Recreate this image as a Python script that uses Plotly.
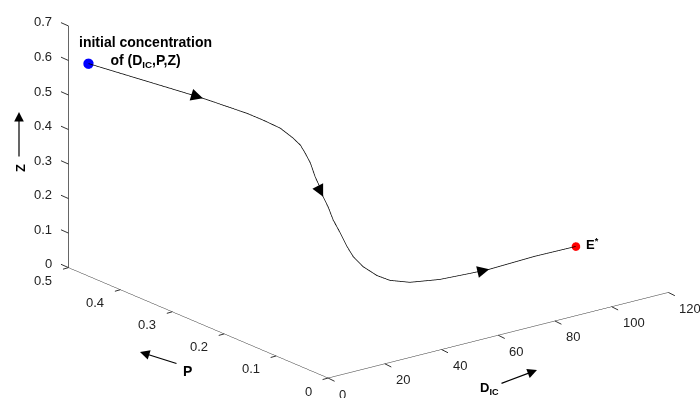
import plotly.graph_objects as go

# trajectory (D_IC, P, Z)
D_IC = [3.35, 11.1, 17.8, 23.6, 32.0, 34.9, 38.1, 40.8, 42.4, 43.2, 44.1, 44.9, 45.2, 45.5,
        45.8, 46.1, 46.9, 47.7, 48.2, 48.9, 50.2, 52.0, 56.3, 62.2, 68.1, 72.4, 83.6, 94.7]
P = [0.48, 0.44, 0.40, 0.37, 0.33, 0.315, 0.30, 0.29, 0.285, 0.28, 0.275, 0.27, 0.262, 0.258,
     0.25, 0.242, 0.233, 0.224, 0.215, 0.20, 0.18, 0.165, 0.15, 0.125, 0.10, 0.085, 0.06, 0.04]
Z = [0.597, 0.569, 0.546, 0.525, 0.489, 0.473, 0.453, 0.425, 0.405, 0.383, 0.356, 0.317, 0.290, 0.266,
     0.241, 0.208, 0.175, 0.139, 0.115, 0.094, 0.078, 0.070, 0.065, 0.077, 0.098, 0.111, 0.141, 0.160]

# indices of trajectory points carrying direction arrows, with pixel offsets of arrow tails
arrow_idx = [3, 13, 25]
arrow_off = [(-13, -4), (-6, -12), (-13, 3)]

D_range = [0, 120]
P_range = [0, 0.5]
Z_range = [0, 0.7]
D_ticks = [0, 20, 40, 60, 80, 100, 120]
P_ticks = [0, 0.1, 0.2, 0.3, 0.4, 0.5]
Z_ticks = [0, 0.1, 0.2, 0.3, 0.4, 0.5, 0.6, 0.7]
D_labels = ["0", "20", "40", "60", "80", "100", "120"]
P_labels = ["0", "0.1", "0.2", "0.3", "0.4", "0.5"]
Z_labels = ["0", "0.1", "0.2", "0.3", "0.4", "0.5", "0.6", "0.7"]

FONT = "Liberation Sans, Arial, sans-serif"
TICKFONT = dict(family=FONT, size=13, color="#222222")

fig = go.Figure()
fig.add_trace(go.Scatter3d(x=D_IC, y=P, z=Z, mode="lines",
                           line=dict(color="black", width=1.5), showlegend=False,
                           hoverinfo="skip"))
fig.add_trace(go.Scatter3d(x=[D_IC[0]], y=[P[0]], z=[Z[0]], mode="markers",
                           marker=dict(color="#0000ff", size=6, line=dict(width=0)),
                           showlegend=False))
fig.add_trace(go.Scatter3d(x=[D_IC[-1]], y=[P[-1]], z=[Z[-1]], mode="markers",
                           marker=dict(color="#ff0000", size=5, line=dict(width=0)),
                           showlegend=False))
# vertical Z axis line on the left edge of the box
fig.add_trace(go.Scatter3d(x=[D_range[0], D_range[0]], y=[P_range[1], P_range[1]], z=Z_range,
                           mode="lines", line=dict(color="#333333", width=1.5),
                           showlegend=False, hoverinfo="skip"))

scene_ann = []
for i, (ox, oy) in zip(arrow_idx, arrow_off):
    scene_ann.append(dict(x=D_IC[i], y=P[i], z=Z[i], text="", showarrow=True,
                          arrowhead=2, arrowsize=2, arrowwidth=1.2, arrowcolor="black",
                          ax=ox, ay=oy))
scene_ann.append(dict(x=D_IC[0], y=P[0], z=Z[0], showarrow=False,
                      text="<b>initial concentration</b><br><b>of (D<sub>IC</sub>,P,Z)</b>",
                      xanchor="left", yanchor="bottom", xshift=-11, yshift=-8,
                      font=dict(family=FONT, size=14, color="black")))
scene_ann.append(dict(x=D_IC[-1], y=P[-1], z=Z[-1], showarrow=False,
                      text="<b>E<sup>*</sup></b>", xanchor="left", yanchor="middle",
                      xshift=8, yshift=2, font=dict(family=FONT, size=13, color="black")))

# tick marks and tick labels (MATLAB style)
for v, lab in zip(Z_ticks, Z_labels):
    scene_ann.append(dict(x=D_range[0], y=P_range[1], z=v, text="", showarrow=True,
                          arrowhead=0, arrowwidth=1, arrowcolor="#333333", ax=-9, ay=-4,
                          standoff=0))
    scene_ann.append(dict(x=D_range[0], y=P_range[1], z=v, text=lab, showarrow=False,
                          xanchor="right", yanchor="middle", xshift=-14, yshift=4,
                          font=TICKFONT))
for v, lab in zip(P_ticks, P_labels):
    scene_ann.append(dict(x=D_range[0], y=v, z=Z_range[0], text="", showarrow=True,
                          arrowhead=0, arrowwidth=1, arrowcolor="#333333", ax=-7, ay=2,
                          standoff=0))
    scene_ann.append(dict(x=D_range[0], y=v, z=Z_range[0], text=lab, showarrow=False,
                          xanchor="right", yanchor="middle", xshift=-14, yshift=-13,
                          font=TICKFONT))
for v, lab in zip(D_ticks, D_labels):
    scene_ann.append(dict(x=v, y=P_range[0], z=Z_range[0], text="", showarrow=True,
                          arrowhead=0, arrowwidth=1, arrowcolor="#333333", ax=8, ay=4,
                          standoff=0))
    scene_ann.append(dict(x=v, y=P_range[0], z=Z_range[0], text=lab, showarrow=False,
                          xanchor="left", yanchor="middle", xshift=9, yshift=-16,
                          font=TICKFONT))

axis_common = dict(showgrid=False, showbackground=False, zeroline=False, showline=True,
                   linecolor="#333333", linewidth=1, ticks="", showticklabels=False,
                   showspikes=False, title=dict(text=""))

cx, cy, cz = -0.1132, 0.0046, -0.189
dist = 3.0
dx, dy, dz = -0.576, -0.749, 0.327

fig.update_layout(
    width=700, height=398, margin=dict(l=0, r=0, t=0, b=0),
    paper_bgcolor="white",
    scene=dict(
        domain=dict(x=[0, 1], y=[0, 1]),
        xaxis=dict(range=D_range, tickvals=D_ticks, **axis_common),
        yaxis=dict(range=P_range, tickvals=P_ticks, **axis_common),
        zaxis=dict(range=Z_range, tickvals=Z_ticks, **axis_common),
        aspectmode="manual", aspectratio=dict(x=2.157, y=2.14, z=1.285),
        camera=dict(projection=dict(type="orthographic"),
                    eye=dict(x=cx + dx * dist, y=cy + dy * dist, z=cz + dz * dist),
                    up=dict(x=0, y=0, z=1), center=dict(x=cx, y=cy, z=cz)),
        annotations=scene_ann,
    ),
)

W, H = 700, 398
def px(x):
    return x / W
def py(y):
    return 1 - y / H

paper_ann = [
    dict(x=px(19), y=py(112), ax=0, ay=46, text="", showarrow=True, arrowhead=2,
         arrowsize=1.6, arrowwidth=1.2, arrowcolor="black", xref="paper", yref="paper"),
    dict(x=px(20), y=py(168), text="<b>Z</b>", showarrow=False, textangle=-90,
         xanchor="center", yanchor="middle",
         xref="paper", yref="paper", font=dict(family=FONT, size=13, color="black")),
    dict(x=px(140), y=py(352), ax=38, ay=12, text="", showarrow=True, arrowhead=2,
         arrowsize=1.6, arrowwidth=1.2, arrowcolor="black", xref="paper", yref="paper"),
    dict(x=px(187), y=py(371), text="<b>P</b>", showarrow=False,
         xanchor="center", yanchor="middle",
         xref="paper", yref="paper", font=dict(family=FONT, size=14, color="black")),
    dict(x=px(537), y=py(370), ax=-37, ay=14, text="", showarrow=True, arrowhead=2,
         arrowsize=1.6, arrowwidth=1.2, arrowcolor="black", xref="paper", yref="paper"),
    dict(x=px(490), y=py(388), text="<b>D<sub>IC</sub></b>", showarrow=False,
         xanchor="center", yanchor="middle",
         xref="paper", yref="paper", font=dict(family=FONT, size=13, color="black")),
]
fig.update_layout(annotations=paper_ann)

fig.write_html("out.html")
